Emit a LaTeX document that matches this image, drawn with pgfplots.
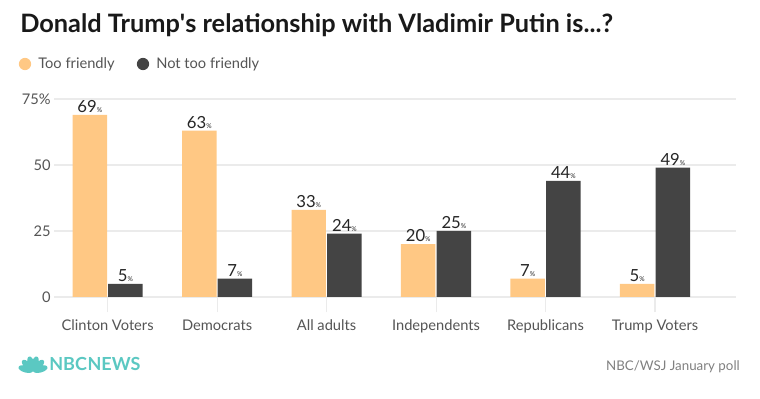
\documentclass[border=0pt]{standalone}
\usepackage{pgfplots}
\pgfplotsset{compat=1.18}
\usepackage{fontspec}
\setmainfont{Lato}
\definecolor{orng}{HTML}{FFC884}
\definecolor{dgray}{HTML}{444444}
\definecolor{gridc}{HTML}{EBEBEB}
\definecolor{nbc}{HTML}{5BC8C2}
\definecolor{lbl}{HTML}{555555}
\begin{document}
\begin{tikzpicture}[x=0.75pt,y=0.75pt]
\fill[white] (0,0) rectangle (760,399);
\node[anchor=base west, inner sep=0, font=\fontsize{19}{21}\selectfont\bfseries, text=black!90] at (20,366) {Donald Trump\textquotesingle s relationship with Vladimir Putin is...?};
% legend
\fill[orng] (25,335) circle[radius=4.6pt];
\node[anchor=west, inner sep=0, font=\fontsize{11}{13}\selectfont, text=lbl] at (38,335) {Too friendly};
\fill[dgray] (143,335) circle[radius=4.6pt];
\node[anchor=west, inner sep=0, font=\fontsize{11}{13}\selectfont, text=lbl] at (156,335) {Not too friendly};
% footer
\node[anchor=base east, inner sep=0, font=\fontsize{10}{12}\selectfont, text=black!50] at (740,28) {NBC/WSJ January poll};
\begin{scope}[shift={(33,28)}]
\foreach \a in {15,45,75,105,135,165}{
  \fill[nbc, rotate=\a] (7.5,0) ellipse[x radius=7.5pt*0.75, y radius=2.6pt];
}
\end{scope}
\node[anchor=base west, inner sep=0, font=\fontsize{13.5}{15}\selectfont\bfseries, text=nbc] at (49,28) {NBC\kern0.5ptNEWS};
\begin{axis}[
  at={(40.5pt,76.5pt)}, anchor=south west,
  scale only axis, width=511.5pt, height=148.5pt,
  xmin=-0.49, xmax=5.74, ymin=0, ymax=75,
  clip=false,
  axis line style={draw=none},
  ymajorgrids, grid style={draw=gridc, line width=0.8pt},
  ytick={0,25,50,75}, yticklabels={0,25,50,75\%},
  ytick style={draw=none},
  xtick={0,1,2,3,4,5},
  xticklabels={Clinton Voters,Democrats,All adults,Independents,Republicans,Trump Voters},
  xtick style={draw=gridc, line width=0.8pt},
  xtick pos=lower, ytick pos=left,
  tick align=outside, major tick length=11.5pt,
  /pgf/number format/assume math mode=true,
  ticklabel style={font=\fontsize{11}{13}\selectfont, text=lbl},
  yticklabel style={xshift=12.5pt},
  xticklabel style={yshift=-2pt},
  ybar, bar width=0.315,
  nodes near coords={\pgfmathprintnumber{\pgfplotspointmeta}{\fontsize{5}{5}\selectfont\%}},
  every node near coord/.append style={font=\fontsize{12.5}{14}\selectfont, text=black!85, inner sep=1.5pt},
]
\addplot[fill=orng, draw=none, bar shift=-0.163] coordinates {(0,69) (1,63) (2,33) (3,20) (4,7) (5,5)};
\addplot[fill=dgray, draw=none, bar shift=0.163] coordinates {(0,5) (1,7) (2,24) (3,25) (4,44) (5,49)};
\end{axis}
\end{tikzpicture}
\end{document}
